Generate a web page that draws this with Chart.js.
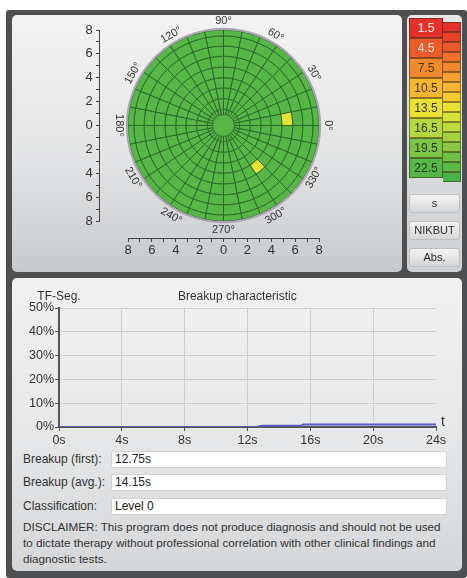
<!DOCTYPE html>
<html lang="en">
<head>
<meta charset="UTF-8" />
<title>TF-Scan – Breakup</title>
<script src="https://cdn.jsdelivr.net/npm/chart.js"></script>
<style>
  * { margin: 0; padding: 0; box-sizing: border-box; }
  body {
    width: 467px; height: 578px; position: relative; overflow: hidden;
    background: #fff;
    font-family: 'Liberation Sans', Arial, sans-serif; font-size: 12px; color: #333;
  }
  .frame { position: absolute; left: 6px; top: 10px; width: 461px; height: 568px; background: #4e4f50; border-radius: 3px; }
  .panel { position: absolute; border-radius: 5px; }
  #mapPanel { left: 12px; top: 15px; width: 390px; height: 257px; background: linear-gradient(#f3f3f3, #e3e4e5 55%, #c7cacd); }
  #scalePanel { left: 407px; top: 15px; width: 55px; height: 257px; background: linear-gradient(#e6e6e6, #d0d2d4); }
  #chartPanel { left: 12px; top: 278px; width: 450px; height: 293px; background: linear-gradient(#f1f1f1, #e6e7e8 55%, #d4d6d8); }
  canvas { position: absolute; }
  #mapAxes, #mapCells { left: 12px; top: 15px; }
  #lineChart { left: 0; top: 280px; }
  .swatch { position: absolute; left: 409px; width: 34px; height: 20px; border: 1px solid rgba(60,40,20,0.55);
            text-align: center; line-height: 18px; font-size: 12px; }
  .step { position: absolute; left: 443px; width: 18px; height: 10px; border: 1px solid rgba(50,40,20,0.5); border-left: none; }
  .btn { position: absolute; left: 409px; width: 51px; height: 19px; border-radius: 3px;
         background: linear-gradient(#f2f2f2, #d6d7d8); border: 1px solid #bfc0c2;
         text-align: center; line-height: 17px; font-size: 11px; color: #2c2c2c; }
  .lbl { position: absolute; left: 23px; font-size: 12px; line-height: 16px; color: #333; }
  .field { position: absolute; left: 111px; width: 336px; height: 17px; background: #fff; border: 1px solid #d2d2d2;
           border-radius: 2px; padding-left: 3px; line-height: 15px; font-size: 12px; color: #222; }
  #disclaimer { position: absolute; left: 23px; top: 519px; width: 432px; font-size: 11.7px; line-height: 16px; color: #333; }
</style>
</head>
<body>
  <div class="frame"></div>
  <div class="panel" id="mapPanel"></div>
  <div class="panel" id="scalePanel"></div>
  <div class="panel" id="chartPanel"></div>

  <canvas id="mapAxes" width="390" height="257"></canvas>
  <canvas id="mapCells" width="390" height="257"></canvas>
  <canvas id="lineChart" width="467" height="170"></canvas>

  <div id="scale"></div>
  <div class="btn" style="top:194px">s</div>
  <div class="btn" style="top:221px">NIKBUT</div>
  <div class="btn" style="top:248px">Abs.</div>

  <div class="lbl" style="top:451px">Breakup (first):</div>
  <div class="field" style="top:451px" id="firstBreak"></div>
  <div class="lbl" style="top:474px">Breakup (avg.):</div>
  <div class="field" style="top:474px" id="avgBreak"></div>
  <div class="lbl" style="top:498px">Classification:</div>
  <div class="field" style="top:498px" id="classLevel"></div>
  <div id="disclaimer">DISCLAIMER: This program does not produce diagnosis and should not be used<br>to dictate therapy without professional correlation with other clinical findings and<br>diagnostic tests.</div>

<script>
  // colour scale (seconds)
  const legendValues = [1.5, 4.5, 7.5, 10.5, 13.5, 16.5, 19.5, 22.5];
  const legendColors = ['#e4312b', '#eb5a2b', '#f08a2e', '#f6b630', '#eae232', '#b5d63c', '#7cc443', '#56b747'];
  const legendInk = ['#fbe9e4', '#fde9dc', '#4a3a20', '#3e3520', '#3b3a20', '#2f3a20', '#27381f', '#20361d'];
  const stripColors = ['#e2302a', '#e8412a', '#ec5a2b', '#ef6f2c', '#f0872e', '#f49f2f', '#f7b630', '#f3c931',
                       '#ebdf33', '#d8e236', '#bfdb3b', '#a5d23e', '#8ac841', '#70c043', '#5cb945', '#4bb247'];

  // polar map: ring edges in mm, 32 sectors of 11.25°
  const ringEdges = [0, 0.9, 1.35, 2.25, 3.15, 4.0, 4.9, 5.8, 6.65, 7.5, 8.0];
  const sectorCount = 32;
  const angleLabels = [0, 30, 60, 90, 120, 150, 180, 210, 240, 270, 300, 330];
  // segments that broke up: start angle (deg, ccw from 0°), ring interval, colour level
  const brokenAngle = [0, 303.75];
  const brokenRing = [6, 5];
  const brokenLevel = [4, 4];

  // breakup characteristic
  const times = [0, 12.5, 12.9, 15.4, 15.55, 24];
  const segPercent = [0, 0, 0.65, 0.65, 1.1, 1.1];
  const results = { first: '12.75s', avg: '14.15s', level: 'Level 0' };

  const FONT = "'Liberation Sans', Arial, sans-serif";
  const INK = '#333';

  // legend column
  const scaleBox = document.getElementById('scale');
  legendValues.forEach((v, i) => {
    const d = document.createElement('div');
    d.className = 'swatch';
    d.style.top = (18 + i * 20) + 'px';
    d.style.background = legendColors[i];
    d.style.color = legendInk[i];
    d.textContent = v;
    scaleBox.appendChild(d);
  });
  stripColors.forEach((c, i) => {
    const d = document.createElement('div');
    d.className = 'step';
    d.style.top = (22 + i * 10) + 'px';
    d.style.background = c;
    scaleBox.appendChild(d);
  });

  document.getElementById('firstBreak').textContent = results.first;
  document.getElementById('avgBreak').textContent = results.avg;
  document.getElementById('classLevel').textContent = results.level;

  // ---- map rulers + degree labels ----
  const mapPad = { left: 116, right: 83, top: 15, bottom: 51 };
  const rulerX = -10.35;   // where the vertical ruler sits on the x scale
  const rulerY = -9.5;     // where the horizontal ruler sits on the y scale

  const degreeLabels = {
    id: 'degreeLabels',
    afterDraw(chart) {
      const { ctx, scales: { x, y } } = chart;
      const r = 8.75;
      ctx.save();
      ctx.font = '11px ' + FONT;
      ctx.fillStyle = INK;
      ctx.textAlign = 'center';
      ctx.textBaseline = 'middle';
      angleLabels.forEach(a => {
        const rad = a * Math.PI / 180;
        const px = x.getPixelForValue(r * Math.cos(rad));
        const py = y.getPixelForValue(r * Math.sin(rad));
        let rot;
        if (a === 0 || a === 180) rot = 90;
        else if (a < 180) rot = 90 - a;
        else rot = 270 - a;
        ctx.save();
        ctx.translate(px, py);
        ctx.rotate(rot * Math.PI / 180);
        ctx.fillText(a + '°', 0, 0);
        ctx.restore();
      });
      ctx.restore();
    }
  };

  const rulerFont = { family: FONT, size: 13 };
  const rulerLabel = v => (v % 2 === 0 ? String(Math.abs(v)) : '');

  const axesChart = new Chart(document.getElementById('mapAxes'), {
    type: 'scatter',
    data: { datasets: [] },
    options: {
      responsive: false,
      animation: false,
      layout: { padding: mapPad },
      plugins: { legend: { display: false }, tooltip: { enabled: false } },
      scales: {
        x: {
          type: 'linear', min: -8, max: 8,
          position: { y: rulerY },
          border: { color: '#444', width: 1 },
          grid: { drawOnChartArea: false, tickLength: 3, tickColor: '#444' },
          ticks: { stepSize: 1, autoSkip: false, maxRotation: 0, padding: 1, color: INK, font: rulerFont, callback: rulerLabel }
        },
        // vertical ruler: line and tick marks
        y: {
          type: 'linear', min: -8, max: 8,
          position: { x: rulerX },
          border: { color: '#444', width: 1 },
          grid: { drawOnChartArea: false, tickLength: 3, tickColor: '#444' },
          ticks: { stepSize: 1, autoSkip: false, display: false }
        },
        // vertical ruler: numbers, set off to the left of the line
        yText: {
          axis: 'y', type: 'linear', min: -8, max: 8,
          position: { x: rulerX - 0.6 },
          border: { display: false },
          grid: { display: false },
          ticks: { stepSize: 1, autoSkip: false, color: INK, font: rulerFont, callback: rulerLabel }
        }
      }
    },
    plugins: [degreeLabels]
  });

  // ---- map cells: one doughnut ring per radial band ----
  const sx = axesChart.scales.x;
  const mmToPx = v => sx.getPixelForValue(v) - sx.getPixelForValue(0);
  const haloWidth = 0.18;
  const sectorSpan = 360 / sectorCount;
  const sectorSizes = Array.from({ length: sectorCount }, () => sectorSpan);

  function cellColor(ring, segIndex) {
    // doughnut segments run clockwise from 0°, map sectors run counter-clockwise
    const startAngle = ((sectorCount - 1 - segIndex) * sectorSpan) % 360;
    for (let k = 0; k < brokenAngle.length; k++) {
      if (brokenRing[k] === ring && Math.abs(brokenAngle[k] - startAngle) < 0.01) {
        return legendColors[brokenLevel[k]];
      }
    }
    return legendColors[legendColors.length - 1];
  }

  const ringSets = [{
    data: [1], weight: haloWidth, backgroundColor: '#aaa5b0', borderWidth: 0
  }];
  for (let i = ringEdges.length - 2; i >= 0; i--) {
    const isDisk = i === 0;
    ringSets.push({
      data: isDisk ? [360] : sectorSizes,
      weight: ringEdges[i + 1] - ringEdges[i],
      backgroundColor: ctx => (isDisk ? legendColors[legendColors.length - 1] : cellColor(i, ctx.dataIndex)),
      borderColor: '#2b6a2a',
      borderWidth: isDisk ? 0 : 1
    });
  }

  new Chart(document.getElementById('mapCells'), {
    type: 'doughnut',
    data: { datasets: ringSets },
    options: {
      responsive: false,
      animation: false,
      cutout: 0,
      rotation: 90,
      radius: mmToPx(ringEdges[ringEdges.length - 1] + haloWidth),
      layout: { padding: mapPad },
      events: [],
      plugins: { legend: { display: false }, tooltip: { enabled: false } }
    }
  });

  // ---- breakup characteristic ----
  const axisNotes = {
    id: 'axisNotes',
    afterDraw(chart) {
      const { ctx, chartArea, scales: { x, y } } = chart;
      ctx.save();
      ctx.font = '12px ' + FONT;
      ctx.fillStyle = INK;
      ctx.textBaseline = 'middle';
      ctx.textAlign = 'center';
      ctx.fillText('TF-Seg.', x.getPixelForValue(0), chartArea.top - 11);
      ctx.fillText('Breakup characteristic', x.getPixelForValue(11.35), chartArea.top - 11);
      ctx.textAlign = 'left';
      ctx.font = '14px ' + FONT;
      ctx.fillText('t', x.getPixelForValue(24) + 5, y.getPixelForValue(0) - 5);
      ctx.restore();
    }
  };

  const gridColor = '#cdcdcd';
  new Chart(document.getElementById('lineChart'), {
    type: 'line',
    data: {
      datasets: [{
        data: times.map((t, i) => ({ x: t, y: segPercent[i] })),
        borderColor: '#5a58d2',
        borderWidth: 1.6,
        backgroundColor: 'rgba(90, 90, 120, 0.35)',
        fill: 'origin',
        pointRadius: 0,
        tension: 0
      }]
    },
    options: {
      responsive: false,
      animation: false,
      layout: { padding: { top: 28, right: 31 } },
      plugins: { legend: { display: false }, tooltip: { enabled: false } },
      scales: {
        x: {
          type: 'linear', min: 0, max: 24,
          afterFit: s => { s.height = 23; },
          border: { color: '#555', width: 2 },
          grid: { color: c => (c.tick && c.tick.value === 24 ? 'rgba(0,0,0,0)' : gridColor), tickLength: 4, tickColor: '#555' },
          ticks: { stepSize: 4, color: INK, padding: 2, maxRotation: 0, font: { family: FONT, size: 12.5 }, callback: v => v + 's' }
        },
        y: {
          type: 'linear', min: 0, max: 50,
          afterFit: s => { s.width = 59; },
          border: { color: '#555', width: 2 },
          grid: { color: gridColor, tickLength: 4, tickColor: '#555' },
          ticks: { stepSize: 10, color: INK, padding: 1, font: { family: FONT, size: 12.5 }, callback: v => v + '%' }
        }
      }
    },
    plugins: [axisNotes]
  });
</script>
</body>
</html>
